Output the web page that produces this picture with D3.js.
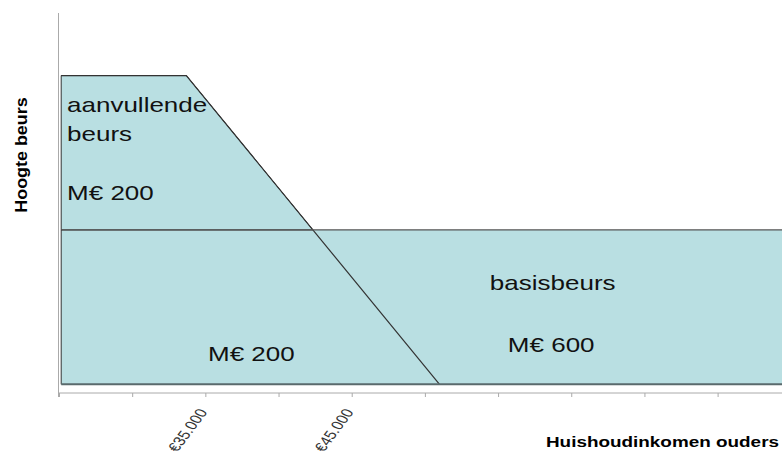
<!DOCTYPE html>
<html>
<head>
<meta charset="utf-8">
<script src="https://cdn.jsdelivr.net/npm/d3@7"></script>
<style>
  body { margin: 0; background: #fff; }
  text { font-family: "Liberation Sans", Arial, sans-serif; }
</style>
</head>
<body>
<div class="chart"></div>
<script>
// income in thousands of euros, height of grant in "basis" units
var startInkomen = 25.15;
var eindInkomen = 75;
var aanvullendPunten = [[25.15, 2], [33.7, 2], [51.0, 0]]; // aanvullende beurs line
var basisHoogte = 1;
var tickWaarden = [25, 30, 35, 40, 45, 50, 55, 60, 65, 70];
var tickLabels = {35: "€35.000", 45: "€45.000"};
var vlakLabels = [
  {x: 25.55, y: 1.764, lines: ["aanvullende", "beurs"]},
  {x: 25.55, y: 1.194, lines: ["M€ 200"]},
  {x: 35.18, y: 0.151, lines: ["M€ 200"]},
  {x: 54.44, y: 0.611, lines: ["basisbeurs"]},
  {x: 55.67, y: 0.209, lines: ["M€ 600"]}
];

var svgWidth = 782, svgHeight = 456;
var rek = 1.3; // text in the picture is stretched sideways

var svg = d3.select(".chart").append("svg")
  .attr("width", svgWidth)
  .attr("height", svgHeight);

var xScale = d3.scaleLinear().domain([25, 74.4]).range([59, 782]);
var yScale = d3.scaleLinear().domain([-0.056, 2.405]).range([393, 13]);

var fill = "#b9dfe2";

// basisbeurs area
svg.append("rect")
  .attr("x", xScale(startInkomen))
  .attr("y", yScale(basisHoogte))
  .attr("width", xScale(eindInkomen) - xScale(startInkomen))
  .attr("height", yScale(0) - yScale(basisHoogte))
  .attr("fill", fill);

// where the aanvullende line crosses the basis level
var p1 = aanvullendPunten[1], p2 = aanvullendPunten[2];
var snijX = p1[0] + (p1[1] - basisHoogte) / (p1[1] - p2[1]) * (p2[0] - p1[0]);

var line = d3.line().x(d => xScale(d[0])).y(d => yScale(d[1]));

var trapezium = [aanvullendPunten[0], p1, [snijX, basisHoogte], [startInkomen, basisHoogte]];
svg.append("path")
  .attr("d", line(trapezium) + "Z")
  .attr("fill", fill)
  .attr("stroke", "#333")
  .attr("stroke-width", 1);

// lines
svg.append("path")
  .attr("d", line(aanvullendPunten))
  .attr("fill", "none")
  .attr("stroke", "#333")
  .attr("stroke-width", 1.2);

svg.append("path")
  .attr("d", line([[startInkomen, basisHoogte], [eindInkomen, basisHoogte]]))
  .attr("fill", "none")
  .attr("stroke", "#555")
  .attr("stroke-width", 1.3);

svg.append("path")
  .attr("d", line([[startInkomen, basisHoogte], [startInkomen, 0]]))
  .attr("fill", "none")
  .attr("stroke", "#333")
  .attr("stroke-width", 1);

svg.append("path")
  .attr("d", line([[startInkomen, 0], [eindInkomen, 0]]))
  .attr("fill", "none")
  .attr("stroke", "#5a6a6c")
  .attr("stroke-width", 2);

// axes
var xAxis = d3.axisBottom(xScale)
  .tickValues(tickWaarden)
  .tickSize(4)
  .tickFormat(d => tickLabels[d] || "");

var xg = svg.append("g")
  .attr("transform", `translate(0, ${yScale(-0.056)})`)
  .call(xAxis);
xg.select(".domain").attr("stroke", "#aaa").attr("d", "M59,0H782");
xg.selectAll(".tick line").attr("stroke", "#aaa");
xg.selectAll(".tick text")
  .attr("fill", "#333")
  .style("font-size", "13px")
  .style("font-family", "Liberation Sans, Arial, sans-serif")
  .attr("text-anchor", "end")
  .attr("y", 0)
  .attr("dy", 0)
  .attr("transform", `translate(2, 19) scale(${rek}, 1) rotate(-60)`);

svg.append("line")
  .attr("x1", 58.5).attr("x2", 58.5)
  .attr("y1", 13).attr("y2", 397)
  .attr("stroke", "#aaa");

// area labels
vlakLabels.forEach(function(l) {
  var x0 = xScale(l.x), y0 = yScale(l.y);
  var t = svg.append("text")
    .attr("transform", `translate(${x0}, ${y0}) scale(${rek}, 1)`)
    .attr("fill", "#111")
    .style("font-size", "20px");
  l.lines.forEach(function(s, i) {
    t.append("tspan").attr("x", 0).attr("dy", i ? 29 : 0).text(s);
  });
});

// axis titles
svg.append("text")
  .attr("transform", "translate(27, 155) rotate(-90) scale(1.12, 1)")
  .attr("text-anchor", "middle")
  .style("font-size", "16px")
  .style("font-weight", "bold")
  .attr("fill", "#000")
  .text("Hoogte beurs");

svg.append("text")
  .attr("transform", `translate(779, 447) scale(1.35, 1)`)
  .attr("text-anchor", "end")
  .style("font-size", "14px")
  .style("font-weight", "bold")
  .attr("fill", "#000")
  .text("Huishoudinkomen  ouders");
</script>
</body>
</html>
